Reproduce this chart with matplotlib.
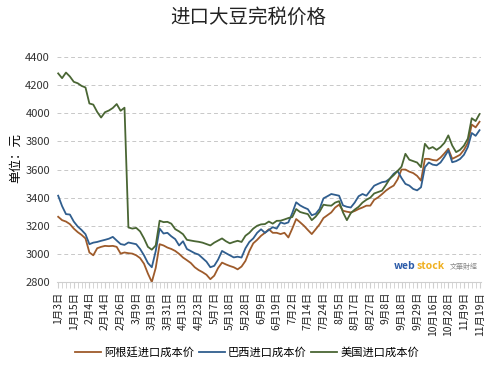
import numpy as np
import matplotlib
matplotlib.use("Agg")
import matplotlib.pyplot as plt

plt.rcParams['font.family'] = ['Noto Sans CJK SC', 'DejaVu Sans']

date_labels = ['1月3日', '1月15日', '2月4日', '2月14日', '2月26日', '3月9日', '3月19日',
               '3月31日', '4月13日', '4月23日', '5月7日', '5月18日', '5月28日', '6月9日',
               '6月19日', '7月2日', '7月14日', '7月24日', '8月5日', '8月17日', '8月27日',
               '9月8日', '9月18日', '9月29日', '10月16日', '10月28日', '11月9日', '11月19日']

argentina = [3264, 3240, 3230, 3212, 3180, 3155, 3135, 3110, 3010, 2990,
             3040, 3050, 3057, 3055, 3057, 3050, 3002, 3010, 3005, 3002,
             2990, 2970, 2930, 2860, 2800, 2900, 3069, 3060, 3045, 3035,
             3021, 3000, 2974, 2955, 2935, 2905, 2885, 2870, 2852, 2820,
             2845, 2900, 2938, 2925, 2914, 2905, 2890, 2910, 2950, 3020,
             3075, 3100, 3129, 3150, 3175, 3150, 3150, 3141, 3150, 3117,
             3180, 3248, 3225, 3200, 3170, 3141, 3175, 3210, 3255, 3275,
             3295, 3330, 3350, 3307, 3300, 3295, 3305, 3319, 3330, 3343,
             3343, 3385, 3402, 3425, 3450, 3470, 3486, 3530, 3600, 3600,
             3585, 3575, 3555, 3521, 3676, 3676, 3668, 3664, 3685, 3715,
             3748, 3676, 3690, 3705, 3740, 3790, 3920, 3900, 3940]

brazil = [3414, 3340, 3283, 3280, 3230, 3195, 3170, 3140, 3069, 3080,
          3085, 3093, 3100, 3108, 3121, 3095, 3070, 3064, 3081, 3075,
          3069, 3035, 2990, 2935, 2905, 3020, 3180, 3145, 3150, 3125,
          3105, 3060, 3090, 3035, 3020, 3005, 2995, 2970, 2945, 2905,
          2915, 2960, 3021, 3005, 2990, 2975, 2980, 2974, 3040, 3085,
          3110, 3150, 3175, 3150, 3170, 3190, 3180, 3224, 3215, 3224,
          3290, 3367, 3345, 3330, 3318, 3275, 3285, 3320, 3395, 3410,
          3426, 3420, 3414, 3345, 3335, 3330, 3365, 3410, 3426, 3414,
          3450, 3485, 3498, 3510, 3515, 3535, 3570, 3590, 3540, 3498,
          3486, 3462, 3452, 3474, 3617, 3650, 3635, 3630, 3650, 3690,
          3736, 3652, 3660, 3675, 3705, 3760, 3860, 3840, 3880]

usa = [4284, 4250, 4290, 4262, 4224, 4214, 4195, 4184, 4070, 4062,
       4010, 3970, 4008, 4020, 4038, 4066, 4018, 4040, 3188, 3180,
       3185, 3160, 3110, 3050, 3030, 3060, 3236, 3226, 3228, 3215,
       3176, 3160, 3140, 3100, 3095, 3090, 3086, 3080, 3070, 3060,
       3080, 3095, 3110, 3090, 3075, 3085, 3093, 3085, 3129, 3150,
       3180, 3200, 3210, 3212, 3230, 3215, 3235, 3236, 3245, 3255,
       3262, 3319, 3298, 3290, 3283, 3240, 3265, 3300, 3350, 3345,
       3343, 3365, 3375, 3295, 3240, 3290, 3315, 3335, 3365, 3385,
       3400, 3430, 3440, 3450, 3490, 3535, 3560, 3590, 3620, 3712,
       3670, 3660, 3650, 3617, 3783, 3748, 3760, 3740, 3760, 3790,
       3843, 3771, 3724, 3740, 3770, 3820, 3965, 3945, 3995]

series_names = ['阿根廷进口成本价', '巴西进口成本价', '美国进口成本价']
series_colors = ['#9e5b2b', '#305e8e', '#4a6634']

x = np.arange(len(usa))

fig = plt.figure(figsize=(4.97, 3.66), dpi=100)
ax = fig.add_axes([0.1147, 0.2295, 0.8533, 0.6145])

for vals, name, col in zip([argentina, brazil, usa], series_names, series_colors):
    ax.plot(x, vals, color=col, linewidth=1.3, label=name)

ax.set_ylim(2800, 4400)
ax.set_yticks(np.arange(2800, 4401, 200))
ax.set_xlim(-0.3, len(usa) - 0.6)
ax.set_xticks(np.arange(0, len(usa), 4))
ax.set_xticklabels(date_labels, rotation=90, fontsize=7.5, color='#222222')
ax.set_xticks(x, minor=True)
ax.tick_params(axis='x', which='both', length=4, color='#cfcfcf', pad=3)
ax.tick_params(axis='y', length=0, labelsize=8, colors='#333333', pad=5)

ax.yaxis.grid(True, linestyle=(0, (4, 3)), color='#c8c8c8', linewidth=0.7)
ax.set_axisbelow(True)
for side in ['top', 'right', 'left']:
    ax.spines[side].set_visible(False)
ax.spines['bottom'].set_color('#cfcfcf')

ax.set_ylabel('单位：元', fontsize=9, labelpad=2)
ax.yaxis.set_label_coords(-0.083, 0.55)

fig.text(0.5, 0.953, '进口大豆完税价格', ha='center', va='center', fontsize=14, color='#222222')

# watermark
fig.text(0.836, 0.272, 'web', fontsize=7.5, color='#2a5aa8', fontweight='bold', ha='right', va='center')
fig.text(0.838, 0.272, 'stock', fontsize=7.5, color='#f0b020', fontweight='bold', ha='left', va='center')
fig.text(0.905, 0.270, '文華財經', fontsize=5, color='#888888', ha='left', va='center')

fig.legend(loc='center', bbox_to_anchor=(0.497, 0.038), ncol=3, frameon=False,
           fontsize=8.1, handlelength=2.3, columnspacing=0.45, handletextpad=0.25)

fig.savefig('out.png', dpi=100)
